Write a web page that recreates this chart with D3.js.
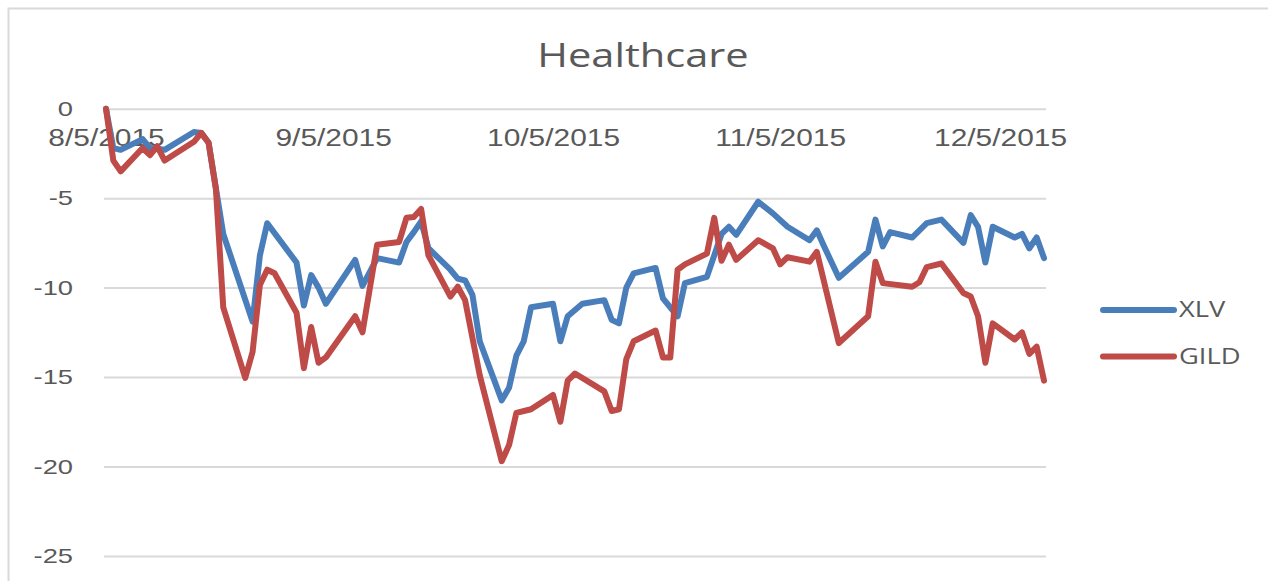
<!DOCTYPE html>
<html>
<head>
<meta charset="utf-8">
<script src="https://cdn.jsdelivr.net/npm/d3@7"></script>
<style>
  html, body { margin: 0; padding: 0; background: #fff; }
  svg { display: block; font-family: "Open Sans", sans-serif; }
  .grid line { stroke: #d9d9d9; stroke-width: 2; }
  .axis text { fill: #595959; }
</style>
</head>
<body>
<svg id="chart" width="1268" height="581"></svg>
<script>
// Data
const title = "Healthcare";
const seriesNames = ["XLV", "GILD"];

const xlvDates = [
  "2015-08-05","2015-08-06","2015-08-07","2015-08-10","2015-08-11","2015-08-13","2015-08-17","2015-08-18",
  "2015-08-19","2015-08-21","2015-08-25","2015-08-26","2015-08-27","2015-08-31","2015-09-01","2015-09-02",
  "2015-09-03","2015-09-04","2015-09-08","2015-09-09","2015-09-11","2015-09-14","2015-09-15","2015-09-16",
  "2015-09-17","2015-09-18","2015-09-21","2015-09-22","2015-09-23","2015-09-24","2015-09-25","2015-09-28",
  "2015-09-29","2015-09-30","2015-10-01","2015-10-02","2015-10-05","2015-10-06","2015-10-07","2015-10-09",
  "2015-10-12","2015-10-13","2015-10-14","2015-10-15","2015-10-16","2015-10-19","2015-10-20","2015-10-22",
  "2015-10-23","2015-10-26","2015-10-28","2015-10-29","2015-10-30","2015-11-02","2015-11-04","2015-11-06",
  "2015-11-09","2015-11-10","2015-11-11","2015-11-13","2015-11-17","2015-11-18","2015-11-19","2015-11-20",
  "2015-11-23","2015-11-25","2015-11-27","2015-11-30","2015-12-01","2015-12-02","2015-12-03","2015-12-04",
  "2015-12-07","2015-12-08","2015-12-09","2015-12-10","2015-12-11"
];
const xlvValues = [
  0, -2.2, -2.3, -1.7, -2.2, -2.3, -1.3, -1.35,
  -1.9, -7.0, -11.9, -8.2, -6.4, -8.6, -11.0, -9.3,
  -10.0, -10.9, -8.45, -9.9, -8.35, -8.6, -7.45, -6.9,
  -6.3, -7.8, -9.0, -9.5, -9.6, -10.4, -13.0, -16.3,
  -15.6, -13.8, -13.0, -11.1, -10.9, -13.0, -11.6, -10.9,
  -10.7, -11.8, -12.0, -10.0, -9.2, -8.9, -10.6, -11.6,
  -9.75, -9.4, -7.0, -6.6, -7.05, -5.2, -5.85, -6.6,
  -7.35, -6.8, -7.7, -9.45, -8.0, -6.2, -7.7, -6.9,
  -7.2, -6.4, -6.2, -7.5, -5.95, -6.6, -8.6, -6.6,
  -7.2, -7.0, -7.8, -7.2, -8.35
];

const gildDates = [
  "2015-08-05","2015-08-06","2015-08-07","2015-08-10","2015-08-11","2015-08-12","2015-08-13","2015-08-17",
  "2015-08-18","2015-08-19","2015-08-20","2015-08-21","2015-08-24","2015-08-25","2015-08-26","2015-08-27",
  "2015-08-28","2015-08-31","2015-09-01","2015-09-02","2015-09-03","2015-09-04","2015-09-08","2015-09-09",
  "2015-09-11","2015-09-14","2015-09-15","2015-09-16","2015-09-17","2015-09-18","2015-09-21","2015-09-22",
  "2015-09-23","2015-09-25","2015-09-28","2015-09-29","2015-09-30","2015-10-02","2015-10-05","2015-10-06",
  "2015-10-07","2015-10-08","2015-10-12","2015-10-13","2015-10-14","2015-10-15","2015-10-16","2015-10-19",
  "2015-10-20","2015-10-21","2015-10-22","2015-10-23","2015-10-26","2015-10-27","2015-10-28","2015-10-29",
  "2015-10-30","2015-11-02","2015-11-04","2015-11-05","2015-11-06","2015-11-09","2015-11-10","2015-11-13",
  "2015-11-17","2015-11-18","2015-11-19","2015-11-23","2015-11-24","2015-11-25","2015-11-27","2015-11-30",
  "2015-12-01","2015-12-02","2015-12-03","2015-12-04","2015-12-07","2015-12-08","2015-12-09","2015-12-10",
  "2015-12-11"
];
const gildValues = [
  0, -2.9, -3.5, -2.2, -2.6, -2.1, -2.9, -1.85,
  -1.35, -1.9, -4.5, -11.1, -15.05, -13.6, -9.85, -9.0,
  -9.2, -11.4, -14.5, -12.2, -14.2, -13.9, -11.6, -12.5,
  -7.6, -7.45, -6.1, -6.05, -5.6, -8.2, -10.5, -9.95,
  -10.7, -14.9, -19.7, -18.8, -17.0, -16.8, -16.0, -17.5,
  -15.2, -14.8, -15.8, -16.9, -16.8, -14.0, -13.0, -12.4,
  -13.9, -13.9, -9.0, -8.7, -8.1, -6.1, -8.5, -7.6,
  -8.45, -7.35, -7.8, -8.7, -8.3, -8.55, -8.0, -13.1,
  -11.6, -8.55, -9.75, -9.95, -9.7, -8.85, -8.65, -10.3,
  -10.5, -11.6, -14.2, -12.0, -12.9, -12.5, -13.7, -13.3,
  -15.2
];

const xTickDates = ["2015-08-05","2015-09-05","2015-10-05","2015-11-05","2015-12-05"];
const yTicks = [0, -5, -10, -15, -20, -25];
const colors = ["#4a7ebb", "#be4b48"];

const parse = d3.timeParse("%Y-%m-%d");
const fmtDate = d3.timeFormat("%-m/%-d/%Y");
const stretch = 1.3; // text in the picture is wider than normal

const series = [
  { name: seriesNames[0], pts: xlvDates.map((d, i) => ({ date: parse(d), v: xlvValues[i] })) },
  { name: seriesNames[1], pts: gildDates.map((d, i) => ({ date: parse(d), v: gildValues[i] })) }
];

const svg = d3.select("#chart");
const W = 1268, H = 581;

// plot box
const plot = { left: 104, right: 1046, top: 108.7, bottom: 556 };

function widen(sel){
  sel.each(function(){
    const len = this.getComputedTextLength();
    d3.select(this).attr("textLength", len * stretch).attr("lengthAdjust", "spacingAndGlyphs");
  });
}

// outer frame (only top and left edges are visible)
svg.append("rect")
  .attr("x", 8.5).attr("y", 8.5)
  .attr("width", W + 20).attr("height", H + 20)
  .attr("fill", "none").attr("stroke", "#d9d9d9").attr("stroke-width", 2);

const x = d3.scaleTime()
  .domain([parse("2015-08-05"), parse("2015-12-11")])
  .range([106, 1044]);

const y = d3.scaleLinear()
  .domain([-25, 0])
  .range([plot.bottom, plot.top]);

// Gridlines + y labels (plain hyphen minus, like Excel)
const gy = svg.append("g")
  .attr("class", "axis grid")
  .attr("transform", `translate(${plot.left},0)`)
  .call(d3.axisLeft(y).tickValues(yTicks).tickSize(-(plot.right - plot.left)).tickPadding(31).tickFormat(d => String(d)));
gy.select(".domain").remove();
gy.selectAll("text").attr("font-size", 21).call(widen);

// X labels (sit just under the zero line)
const gx = svg.append("g")
  .attr("class", "axis x-axis")
  .attr("transform", `translate(0,${y(0)})`)
  .call(d3.axisBottom(x).tickValues(xTickDates.map(parse)).tickSize(0).tickPadding(21).tickFormat(fmtDate));
gx.select(".domain").remove();
gx.selectAll("text").attr("font-size", 23).call(widen);

// Lines
const line = d3.line().x(d => x(d.date)).y(d => y(d.v));

svg.append("g")
  .selectAll("path")
  .data(series)
  .join("path")
  .attr("d", d => line(d.pts))
  .attr("fill", "none")
  .attr("stroke", (d, i) => colors[i])
  .attr("stroke-width", 6)
  .attr("stroke-linejoin", "round")
  .attr("stroke-linecap", "round");

// Title
svg.append("text")
  .attr("x", 643).attr("y", 67)
  .attr("text-anchor", "middle")
  .attr("font-size", 32)
  .attr("fill", "#595959")
  .text(title)
  .call(widen);

// Legend
const legend = svg.append("g")
  .selectAll("g")
  .data(series)
  .join("g")
  .attr("transform", (d, i) => `translate(1103,${310 + i * 46.5})`);

legend.append("line")
  .attr("x1", 0).attr("x2", 71)
  .attr("stroke", (d, i) => colors[i])
  .attr("stroke-width", 6)
  .attr("stroke-linecap", "round");

legend.append("text")
  .attr("x", 76).attr("y", 0).attr("dy", "0.35em")
  .attr("font-size", 21)
  .attr("fill", "#595959")
  .text(d => d.name)
  .call(widen);
</script>
</body>
</html>
